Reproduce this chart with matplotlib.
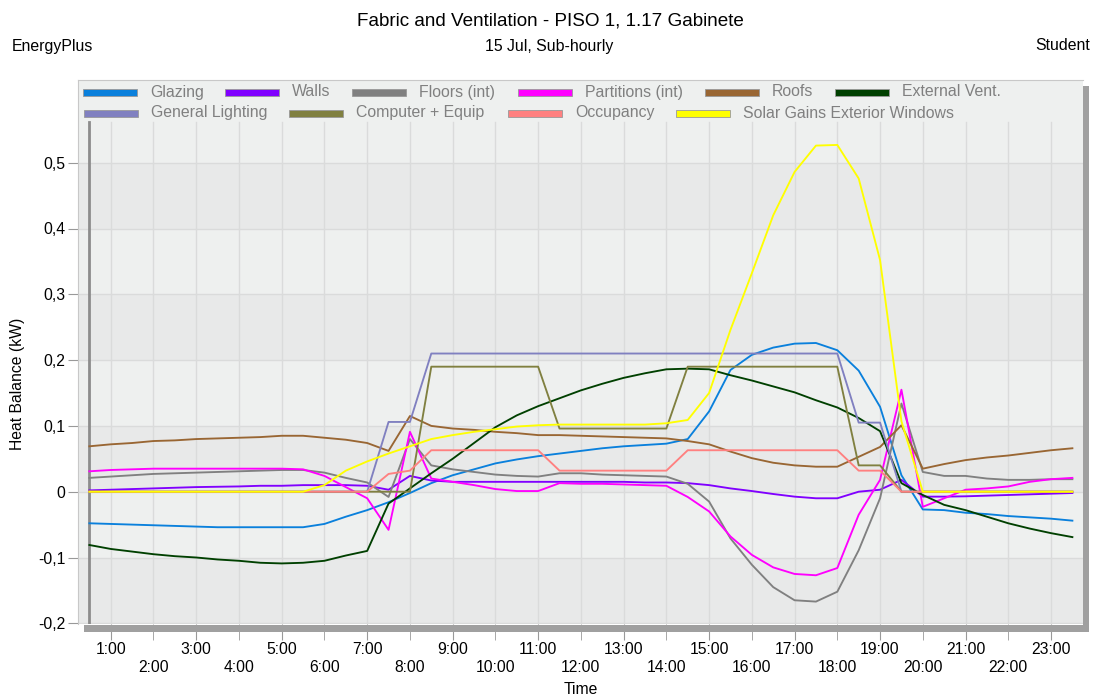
import numpy as np
import matplotlib
matplotlib.use('Agg')
import matplotlib.pyplot as plt
import matplotlib.patches as patch
import matplotlib.transforms as mtrans

plt.rcParams['font.family'] = ['Liberation Sans', 'DejaVu Sans']

# Half-hourly time steps (hours)
hours = np.arange(1, 48) * 0.5

glazing = [-0.048, -0.049, -0.050, -0.051, -0.052, -0.053, -0.054, -0.054, -0.054, -0.054,
           -0.054, -0.049, -0.038, -0.028, -0.016, -0.002, 0.013, 0.025, 0.034, 0.043,
           0.049, 0.054, 0.058, 0.062, 0.066, 0.069, 0.071, 0.073, 0.080, 0.122,
           0.185, 0.208, 0.219, 0.225, 0.226, 0.215, 0.184, 0.129, 0.025, -0.027,
           -0.028, -0.032, -0.034, -0.037, -0.039, -0.041, -0.044]
walls = [0.002, 0.003, 0.004, 0.005, 0.006, 0.007, 0.0075, 0.008, 0.009, 0.009,
         0.010, 0.010, 0.010, 0.009, 0.003, 0.024, 0.017, 0.015, 0.015, 0.015,
         0.015, 0.015, 0.015, 0.015, 0.015, 0.015, 0.014, 0.014, 0.013, 0.010,
         0.005, 0.001, -0.0035, -0.0075, -0.010, -0.010, 0.000, 0.003, 0.018, -0.0075,
         -0.0075, -0.007, -0.006, -0.005, -0.004, -0.003, -0.002]
floors = [0.021, 0.023, 0.025, 0.027, 0.028, 0.029, 0.030, 0.031, 0.032, 0.033,
          0.033, 0.029, 0.021, 0.014, -0.008, 0.080, 0.040, 0.034, 0.030, 0.026,
          0.024, 0.023, 0.028, 0.028, 0.026, 0.025, 0.024, 0.023, 0.012, -0.015,
          -0.071, -0.111, -0.145, -0.165, -0.167, -0.152, -0.089, -0.010, 0.134, 0.030,
          0.024, 0.024, 0.020, 0.018, 0.018, 0.019, 0.019]
partitions = [0.031, 0.033, 0.034, 0.035, 0.035, 0.035, 0.035, 0.035, 0.035, 0.035,
              0.034, 0.024, 0.007, -0.010, -0.058, 0.091, 0.020, 0.015, 0.010, 0.004,
              0.001, 0.001, 0.013, 0.012, 0.012, 0.011, 0.010, 0.009, -0.008, -0.030,
              -0.068, -0.096, -0.115, -0.125, -0.127, -0.116, -0.035, 0.018, 0.155, -0.023,
              -0.010, 0.003, 0.005, 0.008, 0.015, 0.019, 0.021]
roofs = [0.069, 0.072, 0.074, 0.077, 0.078, 0.080, 0.081, 0.082, 0.083, 0.085,
         0.085, 0.082, 0.079, 0.074, 0.062, 0.115, 0.100, 0.096, 0.094, 0.091,
         0.089, 0.086, 0.086, 0.085, 0.084, 0.083, 0.082, 0.081, 0.077, 0.072,
         0.061, 0.051, 0.044, 0.040, 0.038, 0.038, 0.053, 0.068, 0.101, 0.035,
         0.042, 0.048, 0.052, 0.055, 0.059, 0.063, 0.066]
ext_vent = [-0.081, -0.087, -0.091, -0.095, -0.098, -0.100, -0.103, -0.105, -0.108, -0.109,
            -0.108, -0.105, -0.097, -0.090, -0.018, 0.005, 0.028, 0.050, 0.074, 0.098,
            0.116, 0.130, 0.142, 0.154, 0.164, 0.173, 0.180, 0.186, 0.187, 0.186,
            0.177, 0.169, 0.160, 0.151, 0.139, 0.128, 0.112, 0.092, 0.013, -0.005,
            -0.020, -0.028, -0.038, -0.048, -0.056, -0.063, -0.069]
lighting = [0, 0, 0, 0, 0, 0, 0, 0, 0, 0,
            0, 0, 0, 0, 0.106, 0.106, 0.21, 0.21, 0.21, 0.21,
            0.21, 0.21, 0.21, 0.21, 0.21, 0.21, 0.21, 0.21, 0.21, 0.21,
            0.21, 0.21, 0.21, 0.21, 0.21, 0.21, 0.105, 0.105, 0, 0,
            0, 0, 0, 0, 0, 0, 0]
equip = [0, 0, 0, 0, 0, 0, 0, 0, 0, 0,
         0, 0, 0, 0, 0, 0, 0.19, 0.19, 0.19, 0.19,
         0.19, 0.19, 0.096, 0.096, 0.096, 0.096, 0.096, 0.096, 0.19, 0.19,
         0.19, 0.19, 0.19, 0.19, 0.19, 0.19, 0.04, 0.04, 0, 0,
         0, 0, 0, 0, 0, 0, 0]
occupancy = [0, 0, 0, 0, 0, 0, 0, 0, 0, 0,
             0, 0, 0, 0, 0.027, 0.032, 0.063, 0.063, 0.063, 0.063,
             0.063, 0.063, 0.032, 0.032, 0.032, 0.032, 0.032, 0.032, 0.063, 0.063,
             0.063, 0.063, 0.063, 0.063, 0.063, 0.063, 0.032, 0.032, 0, 0,
             0, 0, 0, 0, 0, 0, 0]
solar = [0, 0, 0, 0, 0, 0, 0, 0, 0, 0,
         0, 0.010, 0.032, 0.046, 0.058, 0.069, 0.080, 0.086, 0.091, 0.095,
         0.099, 0.101, 0.102, 0.102, 0.102, 0.102, 0.102, 0.104, 0.109, 0.150,
         0.246, 0.332, 0.420, 0.486, 0.526, 0.527, 0.476, 0.352, 0.107, 0,
         0, 0, 0, 0, 0, 0, 0]

names = ['Glazing', 'Walls', 'Floors (int)', 'Partitions (int)', 'Roofs', 'External Vent.',
         'General Lighting', 'Computer + Equip', 'Occupancy', 'Solar Gains Exterior Windows']
series = [glazing, walls, floors, partitions, roofs, ext_vent,
          lighting, equip, occupancy, solar]
colors = ['#0A80DC', '#8000FF', '#808080', '#FF00FF', '#996633', '#004000',
          '#8080C0', '#808040', '#FF8080', '#FFFF00']

yticks = [-0.2, -0.1, 0, 0.1, 0.2, 0.3, 0.4, 0.5]

W, H = 1098, 696
fig = plt.figure(figsize=(W / 100, H / 100), dpi=100)
# pixel coords (from top-left) -> figure
px = mtrans.Affine2D().scale(1.0 / W, -1.0 / H).translate(0, 1) + fig.transFigure

ax = fig.add_axes([78 / W, 1 - 624 / H, (1083 - 78) / W, (624 - 80) / H])
x0, xs = 68.0, 42.74
ax.set_xlim((78 - x0) / xs, (1083 - x0) / xs)
y0, ys = 491.7, 658.0
ax.set_ylim((y0 - 624) / ys, (y0 - 80) / ys)
ytop = (y0 - 122) / ys
yfrac = (ytop - ax.get_ylim()[0]) / (ax.get_ylim()[1] - ax.get_ylim()[0])

# background bands
ax.set_facecolor('#EEF0EF')
for lo in [-0.2, 0.0, 0.2, 0.4]:
    ax.axhspan(lo, lo + 0.1, color='#E8E9E9', lw=0, zorder=0)
for t in yticks:
    ax.axhline(t, color='#DADBDB', lw=1, zorder=0.5)
for h in range(1, 24):
    ax.axvline(h, ymax=yfrac, color='#DADBDB', lw=1, zorder=0.5)
ax.axvline((89 - x0) / xs, ymax=yfrac, color='#8C8C8C', lw=2, zorder=1)

for vals, c in zip(series, colors):
    ax.plot(hours, vals, color=c, lw=1.35, zorder=3)

for s in ['right', 'bottom']:
    ax.spines[s].set_visible(False)
for s in ['top', 'left']:
    ax.spines[s].set_color('#C8C8C8')

ax.set_yticks(yticks)
ax.set_yticklabels(['0' if t == 0 else ('%.1f' % t).replace('.', ',') for t in yticks])
ax.tick_params(axis='y', direction='out', length=7.2, color='#999999', labelsize=11.3, pad=2)

ax.set_xticks(range(1, 24, 2))
ax.set_xticklabels(['%d:00' % h for h in range(1, 24, 2)])
ax.set_xticks(range(2, 23, 2), minor=True)
ax.set_xticklabels(['%d:00' % h for h in range(2, 23, 2)], minor=True)
ax.tick_params(axis='x', which='both', direction='out', length=11.5, color='#999999',
               labelsize=11.3)
ax.tick_params(axis='x', which='major', pad=1.5)
ax.tick_params(axis='x', which='minor', pad=14.5)

ax.set_xlabel('Time', fontsize=11.3)
ax.xaxis.label.set_va('center')
ax.xaxis.set_label_coords(0.5, (624 - 689) / 544.0)
ax.set_ylabel('Heat Balance (kW)', fontsize=11.3)
ax.yaxis.label.set_va('center')
ax.yaxis.set_label_coords((18 - 78) / 1005.0, (624 - 384) / 544.0)

# 3D shadow
fig.add_artist(patch.Rectangle((84, 631.5), 1089 - 84, -7, transform=px,
                               color='#A0A0A0', lw=0, zorder=2))
fig.add_artist(patch.Rectangle((1083, 631.5), 6, -(631.5 - 86), transform=px,
                               color='#A0A0A0', lw=0, zorder=2))

# legend, laid out like the original
hx = [83, 225, 352, 518, 705, 835, 84, 289, 508, 676]
ry = [92, 92, 92, 92, 92, 92, 113, 113, 113, 113]
for name, c, x, y in zip(names, colors, hx, ry):
    fig.add_artist(patch.Rectangle((x, y + 3.5), 54, -7, transform=px, facecolor=c,
                                   edgecolor='#999999', lw=0.6, zorder=3))
    fig.text(x + 67, y, name, transform=px, va='center', ha='left',
             color='#808080', fontsize=11.4)

# titles
fig.text(550, 21, 'Fabric and Ventilation - PISO 1, 1.17 Gabinete', transform=px,
         ha='center', va='center', fontsize=13.6)
fig.text(12, 46, 'EnergyPlus', transform=px, ha='left', va='center', fontsize=11.4)
fig.text(549, 46, '15 Jul, Sub-hourly', transform=px, ha='center', va='center', fontsize=11.4)
fig.text(1090, 46, 'Student', transform=px, ha='right', va='center', fontsize=11.4)

fig.savefig('out.png', dpi=100)
